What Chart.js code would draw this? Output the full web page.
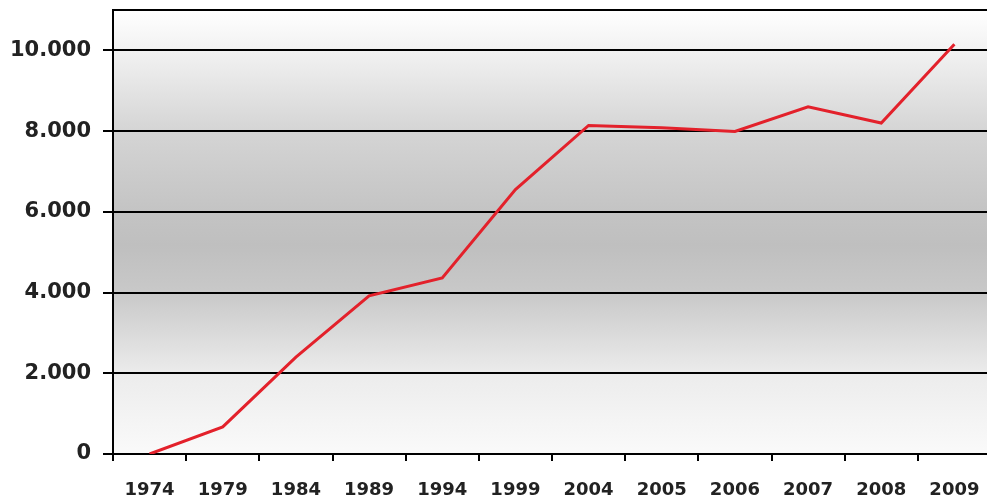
<!DOCTYPE html>
<html>
<head>
<meta charset="utf-8">
<script src="https://cdn.jsdelivr.net/npm/chart.js@4"></script>
<style>
  html, body { margin: 0; padding: 0; background: #fff; overflow: hidden; }
  #wrap { width: 991px; height: 504px; }
</style>
</head>
<body>
<div id="wrap"><canvas id="myChart" width="991" height="504"></canvas></div>
<script>
const years = ['1974', '1979', '1984', '1989', '1994', '1999', '2004', '2005', '2006', '2007', '2008', '2009'];
const values = [0, 670, 2400, 3920, 4360, 6550, 8140, 8080, 7990, 8600, 8200, 10150];
const yTicks = [0, 2000, 4000, 6000, 8000, 10000, 11000];
const yMax = 11000;

const ctx = document.getElementById('myChart');

// grey band behind the plot, light at top and bottom
const bandPlugin = {
  id: 'band',
  beforeDraw(chart) {
    const { ctx, chartArea: a } = chart;
    const g = ctx.createLinearGradient(0, a.top, 0, a.bottom);
    g.addColorStop(0, '#ffffff');
    g.addColorStop(0.09, '#f2f2f2');
    g.addColorStop(0.27, '#d5d5d5');
    g.addColorStop(0.45, '#c4c4c4');
    g.addColorStop(0.53, '#bfbfbf');
    g.addColorStop(0.64, '#c9c9c9');
    g.addColorStop(0.82, '#ececec');
    g.addColorStop(1, '#fafafa');
    ctx.save();
    ctx.fillStyle = g;
    ctx.fillRect(a.left, a.top, a.right - a.left, a.bottom - a.top);
    ctx.restore();
  },
};

new Chart(ctx, {
  type: 'line',
  data: {
    labels: years,
    datasets: [
      {
        data: values,
        borderColor: '#e3212b',
        borderWidth: 3,
        pointRadius: 0,
        tension: 0,
      },
    ],
  },
  options: {
    responsive: false,
    animation: false,
    layout: { padding: { top: 10, right: 0, left: 0, bottom: 0 } },
    plugins: {
      legend: { display: false },
      tooltip: { enabled: false },
    },
    scales: {
      x: {
        offset: true,
        grid: {
          offset: true,
          drawOnChartArea: false,
          tickLength: 7,
          tickColor: '#000',
          lineWidth: 2,
        },
        border: { color: '#000', width: 2 },
        ticks: {
          color: '#222',
          padding: 19,
          maxRotation: 0,
          font: { family: 'DejaVu Sans', weight: 'bold', size: 18 },
        },
        afterFit(scale) {
          scale.height = 50;
          scale.paddingLeft = 0;
          scale.paddingRight = 0;
        },
      },
      y: {
        min: 0,
        max: yMax,
        afterBuildTicks(scale) {
          scale.ticks = yTicks.map((v) => ({ value: v }));
        },
        grid: {
          color: '#000',
          lineWidth: 2,
          tickLength: 10,
          tickColor: (c) => (c.tick && c.tick.value === yMax ? 'rgba(0,0,0,0)' : '#000'),
        },
        border: { color: '#000', width: 2 },
        ticks: {
          color: '#222',
          padding: 12,
          font: { family: 'DejaVu Sans', weight: 'bold', size: 21 },
          callback: (v) => (v === yMax ? '' : v.toLocaleString('de-DE')),
        },
        afterFit(scale) {
          scale.width = 113;
          scale.paddingTop = 0;
          scale.paddingBottom = 0;
        },
      },
    },
  },
  plugins: [bandPlugin],
});
</script>
</body>
</html>
